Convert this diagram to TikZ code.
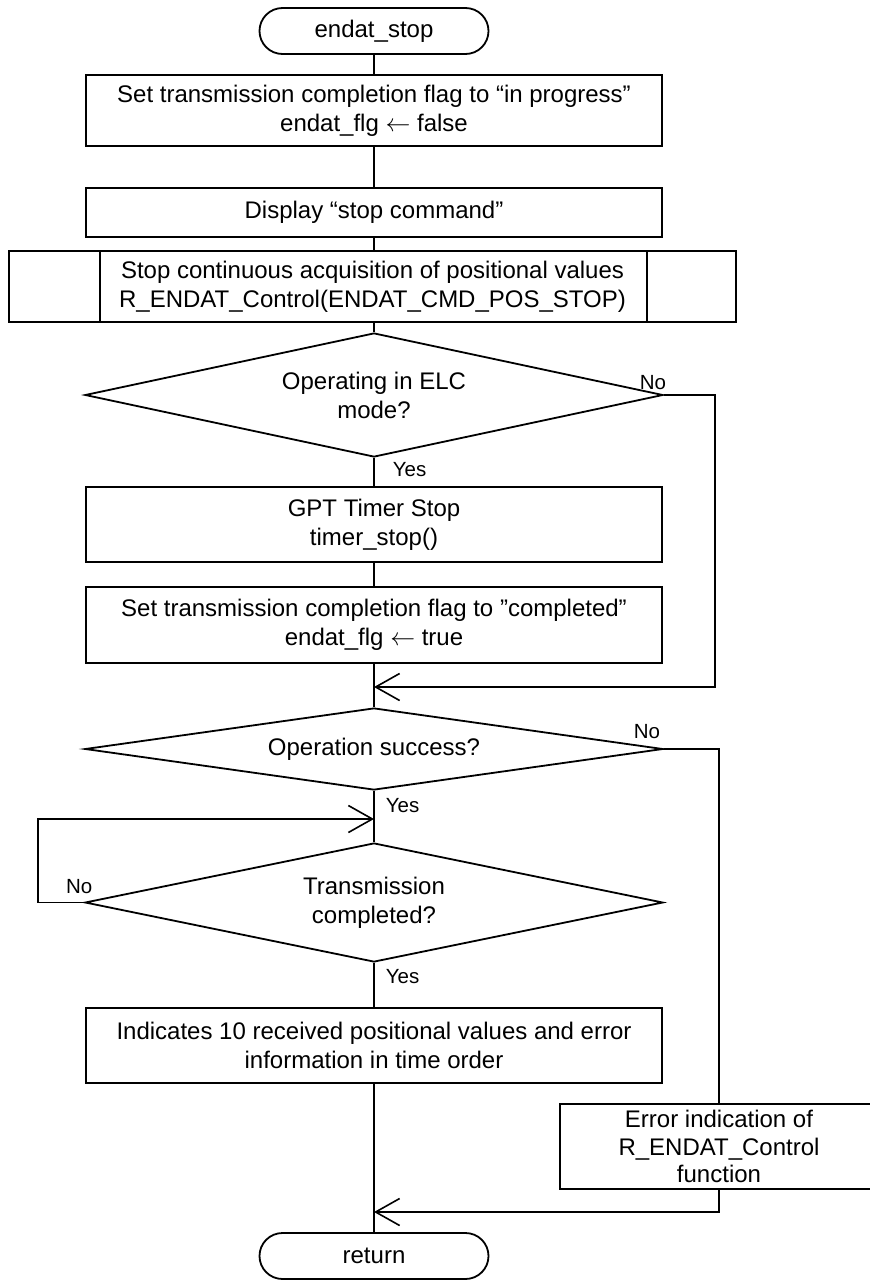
\documentclass[tikz,border=0pt]{standalone}
\usepackage{fontspec}
\setmainfont{Liberation Sans}
\usetikzlibrary{arrows.meta,shapes.geometric,calc}
\begin{document}
\begin{tikzpicture}[x=1pt,y=-1pt,
  every node/.style={font=\fontsize{24}{29}\selectfont},
  box/.style={draw,line width=1.8pt,minimum width=576pt,inner sep=0pt,align=center},
  term/.style={draw,line width=1.8pt,rounded corners=23pt,minimum width=229pt,minimum height=46pt,inner sep=0pt},
  dec/.style={draw,diamond,line width=1.8pt,inner sep=0pt,align=center,minimum width=578pt},
  conn/.style={line width=1.6pt},
  arr/.style={line width=1.6pt,-{Straight Barb[length=24pt,width=27pt,line width=1.6pt]}},
  lab/.style={font=\fontsize{20.5}{24}\selectfont,inner sep=0pt}]
\fill[white] (0,0) rectangle (870,1280);
\useasboundingbox (0,0) rectangle (870,1280);
\clip (0,0) rectangle (870,1280);

\node[term] (T1) at (374,31) {endat\_stop};
\node[box,minimum height=71pt] (B1) at (374,110.5) {Set transmission completion flag to “in progress”\\endat\_flg \(\leftarrow\) false};
\node[box,minimum height=49pt] (B2) at (374,212.5) {Display “stop command”};
\node[box,minimum width=727pt,minimum height=71pt] (P) at (372.5,286.5) {Stop continuous acquisition of positional values\\R\_ENDAT\_Control(ENDAT\_CMD\_POS\_STOP)};
\draw[line width=1.8pt] ([xshift=92pt]P.north west) -- ([xshift=92pt]P.south west);
\draw[line width=1.8pt] ([xshift=-90pt]P.north east) -- ([xshift=-90pt]P.south east);
\node[dec,minimum height=124pt,aspect=4.66] (D1) at (374,395) {Operating in ELC\\mode?};
\node[box,minimum height=75pt] (G) at (374,524.5) {GPT Timer Stop\\timer\_stop()};
\node[box,minimum height=76pt] (C) at (374,625) {Set transmission completion flag to ”completed”\\endat\_flg \(\leftarrow\) true};
\node[dec,minimum height=82pt,aspect=7.05] (D2) at (374,749) {Operation success?};
\node[dec,minimum height=119pt,aspect=4.86] (D3) at (374,902.5) {Transmission\\completed?};
\node[box,minimum height=75pt] (I) at (374,1045.5) {Indicates 10 received positional values and error\\information in time order};
\node[box,minimum width=318pt,minimum height=85pt,font=\fontsize{24}{27.5}\selectfont] (E) at (719,1146.5) {Error indication of\\R\_ENDAT\_Control\\function};
\node[term] (T2) at (374,1256) {return};

\coordinate (m1) at (374,687);
\coordinate (r1) at (715,687);
\coordinate (m2) at (374,819);
\coordinate (l2) at (38,819);
\coordinate (m3) at (374,1212);

\draw[conn] (T1.south) -- (B1.north);
\draw[conn] (B1.south) -- (B2.north);
\draw[conn] (B2.south) -- (B2.south |- P.north);
\draw[conn] (D1.north |- P.south) -- (D1.north);
\draw[conn] (D1.south) -- node[lab,pos=0,anchor=north west,xshift=18pt,yshift=-4pt]{Yes} (G.north);
\draw[conn] (G.south) -- (C.north);
\draw[conn] (C.south) -- (D2.north);
\draw[arr] (D1.east) node[lab,anchor=south east,xshift=3pt,yshift=5pt]{No} -| (r1) -- (m1);
\draw[conn] (D2.south) -- node[lab,pos=0,anchor=north west,xshift=11pt,yshift=-7pt]{Yes} (D3.north);
\draw[conn] (D2.east) node[lab,anchor=south east,xshift=-3pt,yshift=10pt]{No} -| (E.north);
\draw[arr] (D3.west) node[lab,anchor=south east,xshift=9pt,yshift=8pt]{No} -| (l2) -- (m2);
\draw[conn] (D3.south) -- node[lab,pos=0,anchor=north west,xshift=11pt,yshift=-6pt]{Yes} (I.north);
\draw[conn] (I.south) -- (T2.north);
\draw[arr] (E.south) |- (m3);
\end{tikzpicture}
\end{document}
